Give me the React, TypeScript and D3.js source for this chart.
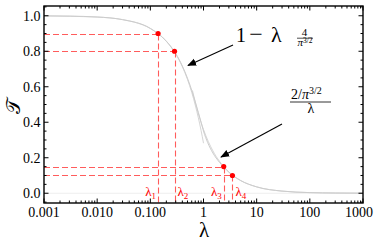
import React, { useEffect, useRef } from 'react';
import * as d3 from 'd3';

// main curve T(lambda)
const curveLambda = [0.001, 0.003, 0.01, 0.03, 0.1, 0.2, 0.3, 0.4, 0.5, 0.6, 0.7, 0.8, 0.9, 1.0, 1.2, 1.5, 2.0, 2.4, 3.0, 3.5, 5, 10, 30, 100, 300, 1000];
const curveT = [0.9993, 0.998, 0.993, 0.978, 0.929, 0.857, 0.787, 0.717, 0.648, 0.58, 0.515, 0.455, 0.4, 0.35, 0.285, 0.227, 0.174, 0.147, 0.118, 0.101, 0.071, 0.0358, 0.012, 0.0036, 0.0012, 0.00036];

// small-lambda asymptote 1 - lambda 4/pi^(3/2)
const linLambda = [0.001, 0.01, 0.03, 0.05, 0.1, 0.2, 0.3, 0.4, 0.5, 0.6, 0.7, 0.8, 0.9, 1.0];
const linT = [0.9993, 0.9928, 0.9785, 0.964, 0.928, 0.856, 0.785, 0.713, 0.641, 0.569, 0.497, 0.425, 0.354, 0.282];

// large-lambda asymptote (2/pi^(3/2))/lambda
const invLambda = [0.62, 0.7, 0.8, 1.0, 1.5, 2, 3, 5, 10, 30, 100, 300, 1000];
const invT = [0.579, 0.513, 0.449, 0.359, 0.239, 0.18, 0.12, 0.072, 0.036, 0.012, 0.0036, 0.0012, 0.00036];

// marked points
const markNames = ['1', '2', '3', '4'];
const markLambda = [0.14, 0.285, 2.4, 3.5];
const markT = [0.9, 0.8, 0.15, 0.1];

const xTickValues = [0.001, 0.01, 0.1, 1, 10, 100, 1000];
const xTickLabels = ['0.001', '0.010', '0.100', '1', '10', '100', '1000'];
const yTickValues = [0, 0.2, 0.4, 0.6, 0.8, 1.0];
const yTickLabels = ['0.0', '0.2', '0.4', '0.6', '0.8', '1.0'];

const W = 374, H = 241;
const L = 44, R = 363, T = 6, B = 203;
const serif = '"Liberation Serif", "DejaVu Serif", serif';
const RED = '#ff0000';
const DASH = '#ff5c5c';

export default function App() {
  const svgRef = useRef<SVGSVGElement>(null);

  useEffect(() => {
    const svg = d3.select(svgRef.current);
    svg.selectAll('*').remove();

    const x = d3.scaleLog().domain([0.001, 1000]).range([L, R]);
    const y = d3.scaleLinear().domain([-0.055, 1.055]).range([B, T]);

    const line = (xs: number[], ys: number[]) =>
      d3.line<number>().x(d => x(xs[d])).y(d => y(ys[d])).curve(d3.curveMonotoneX)(xs.map((_, i) => i));

    // zero line
    svg.append('line').attr('x1', L).attr('x2', R).attr('y1', y(0)).attr('y2', y(0))
      .attr('stroke', '#eeeeee').attr('stroke-width', 1);

    svg.append('path').attr('d', line(linLambda, linT)).attr('fill', 'none').attr('stroke', '#d6d6d6').attr('stroke-width', 1);
    svg.append('path').attr('d', line(invLambda, invT)).attr('fill', 'none').attr('stroke', '#d6d6d6').attr('stroke-width', 1);
    svg.append('path').attr('d', line(curveLambda, curveT)).attr('fill', 'none').attr('stroke', '#cccccc').attr('stroke-width', 1);

    // dashed guides
    markLambda.forEach((lam, i) => {
      const py = Math.round(y(markT[i])) + 0.5;
      const px = Math.round(x(lam)) + 0.5;
      svg.append('line').attr('x1', L).attr('x2', px).attr('y1', py).attr('y2', py)
        .attr('stroke', DASH).attr('stroke-width', 1.1).attr('stroke-dasharray', '6,3');
      svg.append('line').attr('x1', px).attr('x2', px).attr('y1', py).attr('y2', B)
        .attr('stroke', DASH).attr('stroke-width', 1.1).attr('stroke-dasharray', '6,3');
    });
    svg.selectAll('circle.pt').data(markLambda).join('circle').attr('class', 'pt')
      .attr('cx', d => x(d)).attr('cy', (_, i) => y(markT[i])).attr('r', 2.6).attr('fill', RED);

    // lambda labels
    const side = [-1, 1, -1, 1];
    markLambda.forEach((lam, i) => {
      const t = svg.append('text').attr('font-family', serif).attr('font-size', 13).attr('fill', RED)
        .attr('y', 196).attr('x', x(lam) + (side[i] < 0 ? -2 : 3)).attr('text-anchor', side[i] < 0 ? 'end' : 'start');
      t.append('tspan').text('λ');
      t.append('tspan').attr('font-size', 9).attr('dy', 3).text(markNames[i]);
    });

    // frame
    svg.append('rect').attr('x', L).attr('y', T).attr('width', R - L).attr('height', B - T)
      .attr('fill', 'none').attr('stroke', '#000').attr('stroke-width', 1.4);

    // log ticks top and bottom
    x.ticks().forEach(v => {
      const major = Math.abs(Math.log10(v) - Math.round(Math.log10(v))) < 1e-6;
      const len = major ? 4.5 : 2.5;
      svg.append('line').attr('x1', x(v)).attr('x2', x(v)).attr('y1', B).attr('y2', B - len).attr('stroke', '#000').attr('stroke-width', 1);
      svg.append('line').attr('x1', x(v)).attr('x2', x(v)).attr('y1', T).attr('y2', T + len).attr('stroke', '#000').attr('stroke-width', 1);
    });
    // linear ticks left and right
    d3.range(-0.05, 1.06, 0.05).forEach(v => {
      const major = Math.abs(v * 5 - Math.round(v * 5)) < 1e-6;
      const len = major ? 4.5 : 2.5;
      svg.append('line').attr('x1', L).attr('x2', L + len).attr('y1', y(v)).attr('y2', y(v)).attr('stroke', '#000').attr('stroke-width', 1);
      svg.append('line').attr('x1', R).attr('x2', R - len).attr('y1', y(v)).attr('y2', y(v)).attr('stroke', '#000').attr('stroke-width', 1);
    });

    // tick labels
    svg.selectAll('text.xt').data(xTickValues).join('text').attr('class', 'xt')
      .attr('x', (d, i) => (i === xTickValues.length - 1 ? 373 : x(d)))
      .attr('y', 217).attr('text-anchor', (_, i) => (i === xTickValues.length - 1 ? 'end' : 'middle'))
      .attr('font-family', serif).attr('font-size', 14).text((_, i) => xTickLabels[i]);
    svg.selectAll('text.yt').data(yTickValues).join('text').attr('class', 'yt')
      .attr('x', 40.5).attr('y', d => y(d) + 4.8).attr('text-anchor', 'end')
      .attr('font-family', serif).attr('font-size', 14).text((_, i) => yTickLabels[i]);

    // axis titles
    svg.append('text').attr('x', 204).attr('y', 237).attr('text-anchor', 'middle')
      .attr('font-family', serif).attr('font-size', 21).text('λ');
    svg.append('text').attr('transform', 'translate(20,106) rotate(-90)').attr('text-anchor', 'middle')
      .attr('font-family', '"DejaVu Serif", serif').attr('font-size', 20).text('𝒯');

    // arrows
    const defs = svg.append('defs');
    defs.append('marker').attr('id', 'ah').attr('viewBox', '0 0 10 10').attr('refX', 9).attr('refY', 5)
      .attr('markerWidth', 9).attr('markerHeight', 9).attr('markerUnits', 'userSpaceOnUse').attr('orient', 'auto')
      .append('path').attr('d', 'M0,1 L10,5 L0,9 Z').attr('fill', '#000');
    svg.append('line').attr('x1', 233).attr('y1', 45).attr('x2', 188).attr('y2', 65.5)
      .attr('stroke', '#000').attr('stroke-width', 1.1).attr('marker-end', 'url(#ah)');
    svg.append('line').attr('x1', 282).attr('y1', 124).attr('x2', 221).attr('y2', 157)
      .attr('stroke', '#000').attr('stroke-width', 1.1).attr('marker-end', 'url(#ah)');

    // formula 1 - lambda 4/pi^{3/2}
    const f = svg.append('g').attr('font-family', serif);
    f.append('text').attr('x', 236).attr('y', 41.5).attr('font-size', 20).text('1');
    f.append('text').attr('x', 256).attr('y', 41.5).attr('font-size', 24).attr('text-anchor', 'middle').text('−');
    f.append('text').attr('x', 271).attr('y', 41.5).attr('font-size', 22).text('λ');
    f.append('text').attr('x', 304.5).attr('y', 36).attr('font-size', 11).attr('text-anchor', 'middle').text('4');
    f.append('line').attr('x1', 297).attr('x2', 313).attr('y1', 38.2).attr('y2', 38.2).attr('stroke', '#000').attr('stroke-width', 0.7);
    const d1 = f.append('text').attr('x', 297.5).attr('y', 46).attr('font-size', 11);
    d1.append('tspan').attr('font-style', 'italic').text('π');
    d1.append('tspan').attr('font-size', 7.5).attr('dy', -3.5).text('3/2');

    // formula (2/pi^{3/2})/lambda
    const n2 = f.append('text').attr('x', 291).attr('y', 99).attr('font-size', 14);
    n2.append('tspan').text('2/');
    n2.append('tspan').attr('font-style', 'italic').text('π');
    n2.append('tspan').attr('font-size', 10).attr('dy', -5.5).text('3/2');
    f.append('line').attr('x1', 290).attr('x2', 331).attr('y1', 102).attr('y2', 102).attr('stroke', '#000').attr('stroke-width', 0.8);
    f.append('text').attr('x', 311).attr('y', 113).attr('font-size', 14).attr('text-anchor', 'middle').text('λ');
  }, []);

  return (
    <svg ref={svgRef} width={W} height={H} style={{ position: 'absolute', left: 0, top: 0, background: '#fff' }} />
  );
}
